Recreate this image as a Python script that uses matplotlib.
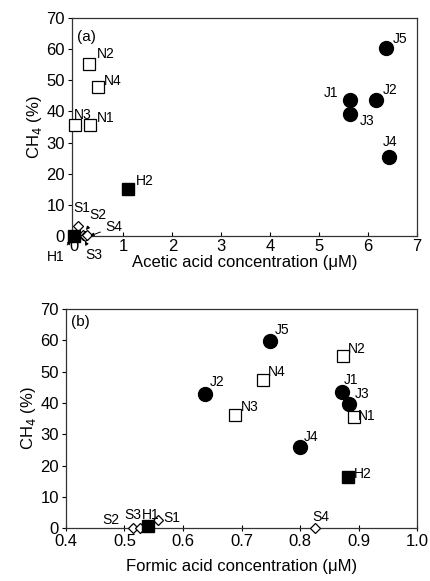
import matplotlib.pyplot as plt

plt.rcParams['font.family'] = ['Liberation Sans', 'DejaVu Sans']

# Painel (a): ácido acético
ac_j_nomes = ['J1', 'J2', 'J3', 'J4', 'J5']
ac_j_x = [5.62, 6.16, 5.62, 6.42, 6.37]
ac_j_y = [43.5, 43.5, 39.2, 25.5, 60.3]

ac_n_nomes = ['N1', 'N2', 'N3', 'N4']
ac_n_x = [0.31, 0.29, 0.01, 0.48]
ac_n_y = [35.5, 55.1, 35.5, 47.8]

ac_h_nomes = ['H1', 'H2']
ac_h_x = [0.0, 1.09]
ac_h_y = [0.0, 15.2]

ac_s_nomes = ['S1', 'S2', 'S3', 'S4']
ac_s_x = [0.08, 0.18, 0.22, 0.25]
ac_s_y = [3.2, 0.3, 0.0, 0.3]

# Painel (b): ácido fórmico
fo_j_x = [0.871, 0.637, 0.884, 0.799, 0.749]
fo_j_y = [43.4, 43.0, 39.8, 25.9, 59.9]

fo_n_x = [0.892, 0.873, 0.689, 0.736]
fo_n_y = [35.5, 55.1, 36.2, 47.3]

fo_h_x = [0.540, 0.882]
fo_h_y = [0.7, 16.3]

fo_s_x = [0.558, 0.515, 0.527, 0.825]
fo_s_y = [2.5, 0.0, 0.0, 0.0]

fig = plt.figure(figsize=(4.31, 5.81), dpi=100)
ax1 = fig.add_axes([0.167, 0.594, 0.801, 0.375])
ax2 = fig.add_axes([0.153, 0.091, 0.815, 0.377])


def desenhar(ax, jx, jy, nx, ny, hx, hy, sx, sy):
    ax.plot(jx, jy, 'o', color='black', markersize=10, clip_on=False, zorder=3)
    ax.plot(nx, ny, 's', markerfacecolor='white', markeredgecolor='black',
            markersize=8, markeredgewidth=0.9, clip_on=False, zorder=3)
    ax.plot(hx, hy, 's', color='black', markersize=8, clip_on=False, zorder=4)
    ax.plot(sx, sy, 'D', markerfacecolor='white', markeredgecolor='black',
            markersize=5, markeredgewidth=0.9, clip_on=False, zorder=3)
    ax.set_ylim(0, 70)
    ax.set_yticks(range(0, 71, 10))
    ax.set_ylabel('CH$_4$ (%)', fontsize=12, labelpad=2)
    ax.tick_params(axis='y', direction='out', length=3, labelsize=12, pad=2)
    for s in ax.spines.values():
        s.set_linewidth(0.9)
        s.set_color('#333333')


lab = dict(fontsize=10)

# (a)
desenhar(ax1, ac_j_x, ac_j_y, ac_n_x, ac_n_y, ac_h_x, ac_h_y, ac_s_x, ac_s_y)
ax1.set_xlim(-0.05, 7)
ax1.set_xticks(range(0, 8))
ax1.tick_params(axis='x', direction='in', length=3, labelsize=12, pad=2)
ax1.set_xlabel('Acetic acid concentration (\u03bcM)', fontsize=12, labelpad=1)
ax1.text(0.06, 62.5, '(a)', fontsize=11)

ax1.text(5.38, 44.5, 'J1', ha='right', **lab)
ax1.text(6.3, 45.5, 'J2', **lab)
ax1.text(5.82, 35.5, 'J3', **lab)
ax1.text(6.3, 29.0, 'J4', **lab)
ax1.text(6.5, 62.0, 'J5', **lab)
ax1.text(0.45, 36.5, 'N1', **lab)
ax1.text(0.45, 57.0, 'N2', **lab)
ax1.text(-0.02, 37.5, 'N3', **lab)
ax1.text(0.6, 48.5, 'N4', **lab)
ax1.text(1.25, 16.5, 'H2', **lab)
ax1.text(-0.02, 9.0, 'S1', va='center', **lab)

setas = dict(arrowstyle='-|>', color='black', lw=0.7, mutation_scale=5)
ax1.annotate('H1', xy=(-0.03, -1.0), xytext=(-0.2, -6.7), fontsize=10,
             arrowprops=setas, annotation_clip=False, va='center', ha='right')
ax1.annotate('S2', xy=(0.2, 1.2), xytext=(0.31, 6.7), fontsize=10,
             arrowprops=setas, annotation_clip=False, va='center')
ax1.annotate('S4', xy=(0.27, -0.3), xytext=(0.64, 2.9), fontsize=10,
             arrowprops=setas, annotation_clip=False, va='center')
ax1.annotate('S3', xy=(0.18, -1.0), xytext=(0.23, -6.3), fontsize=10,
             arrowprops=setas, annotation_clip=False, va='center')

# (b)
desenhar(ax2, fo_j_x, fo_j_y, fo_n_x, fo_n_y, fo_h_x, fo_h_y, fo_s_x, fo_s_y)
ax2.set_xlim(0.4, 1.0)
ax2.set_xticks([0.4, 0.5, 0.6, 0.7, 0.8, 0.9, 1.0])
ax2.xaxis.set_major_formatter(plt.FormatStrFormatter('%.1f'))
ax2.tick_params(axis='x', direction='inout', length=5, labelsize=12, pad=2)
ax2.set_xlabel('Formic acid concentration (\u03bcM)', fontsize=12, labelpad=7)
ax2.text(0.408, 64.5, '(b)', fontsize=11)

ax2.text(0.875, 46.0, 'J1', **lab)
ax2.text(0.645, 45.5, 'J2', **lab)
ax2.text(0.893, 41.5, 'J3', **lab)
ax2.text(0.806, 28.0, 'J4', **lab)
ax2.text(0.757, 62.0, 'J5', **lab)
ax2.text(0.898, 34.5, 'N1', **lab)
ax2.text(0.881, 56.0, 'N2', **lab)
ax2.text(0.698, 37.5, 'N3', **lab)
ax2.text(0.745, 48.5, 'N4', **lab)
ax2.text(0.891, 16.0, 'H2', **lab)
ax2.text(0.566, 2.0, 'S1', **lab)
ax2.text(0.462, 1.2, 'S2', **lab)
ax2.text(0.500, 2.8, 'S3', **lab)
ax2.text(0.529, 2.8, 'H1', **lab)
ax2.text(0.82, 2.2, 'S4', **lab)

plt.savefig('out.png', dpi=100)
